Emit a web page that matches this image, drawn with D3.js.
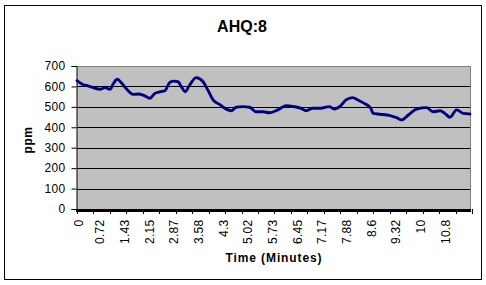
<!DOCTYPE html>
<html>
<head>
<meta charset="utf-8">
<script src="https://cdn.jsdelivr.net/npm/d3@7"></script>
<style>
  html, body { margin: 0; padding: 0; background: #fff; }
  svg { display: block; }
  text { font-family: Arial, "Liberation Sans", sans-serif; fill: #000; }
</style>
</head>
<body>
<svg id="chart" width="486" height="285"></svg>
<script>
// ---- data ----
const timeMinutes = [0, 0.14, 0.33, 0.52, 0.67, 0.81, 0.96, 1.05, 1.17, 1.30, 1.44, 1.63, 1.78, 1.92,
  2.12, 2.26, 2.41, 2.55, 2.70, 2.82, 2.93, 3.03, 3.14, 3.27, 3.46, 3.66, 3.80, 3.95, 4.14, 4.33,
  4.48, 4.62, 4.82, 5.01, 5.20, 5.40, 5.59, 5.83, 6.07, 6.31, 6.50, 6.65, 6.84, 7.08, 7.32, 7.47,
  7.66, 7.81, 8.00, 8.15, 8.34, 8.53, 8.60, 8.80, 9.09, 9.28, 9.43, 9.62, 9.86, 10.15, 10.34,
  10.54, 10.68, 10.83, 11.02, 11.21, 11.41];
const ppmValues = [628, 612, 602, 591, 586, 594, 586, 612, 635, 615, 587, 561, 563, 558,
  542, 566, 574, 579, 620, 626, 623, 599, 574, 607, 643, 623, 582, 534, 512, 489,
  481, 498, 501, 498, 476, 476, 471, 485, 506, 501, 493, 481, 493, 493, 501, 489,
  506, 534, 545, 534, 517, 493, 468, 464, 457, 447, 436, 460, 489, 496, 476,
  481, 468, 449, 485, 468, 465];
const xTickValues = [0, 0.7167, 1.4333, 2.15, 2.8667, 3.5833, 4.3, 5.0167, 5.7333, 6.45,
  7.1667, 7.8833, 8.6, 9.3167, 10.0333, 10.75];
const xTickLabels = ["0", "0.72", "1.43", "2.15", "2.87", "3.58", "4.3", "5.02", "5.73", "6.45",
  "7.17", "7.88", "8.6", "9.32", "10", "10.8"];
const yTickValues = [0, 100, 200, 300, 400, 500, 600, 700];
const chartTitle = "AHQ:8";
const xTitle = "Time (Minutes)";
const yTitle = "ppm";

// ---- layout ----
const svg = d3.select("#chart");
const plot = { left: 77, right: 471, top: 66, bottom: 209 };

const x = d3.scaleLinear().domain([0, 11.41]).range([plot.left, 470]);
const y = d3.scaleLinear().domain([0, 700]).range([plot.bottom, plot.top]);

// outer chart border
svg.append("rect")
  .attr("x", 4.5).attr("y", 5.5).attr("width", 477).attr("height", 274)
  .attr("fill", "#fff").attr("stroke", "#000").attr("stroke-width", 1);

// title
svg.append("text")
  .attr("x", 242).attr("y", 31.5)
  .attr("text-anchor", "middle")
  .attr("font-size", 16).attr("font-weight", "bold")
  .text(chartTitle);

// plot area
svg.append("rect")
  .attr("x", plot.left).attr("y", plot.top)
  .attr("width", plot.right - plot.left).attr("height", plot.bottom - plot.top)
  .attr("fill", "#c0c0c0");

// gridlines
svg.append("g").selectAll("line")
  .data(yTickValues.filter(v => v > 0 && v < 700))
  .join("line")
  .attr("x1", plot.left).attr("x2", plot.right)
  .attr("y1", d => Math.round(y(d)) + 0.5).attr("y2", d => Math.round(y(d)) + 0.5)
  .attr("stroke", "#000").attr("stroke-width", 1);

// plot border (top/right)
svg.append("path")
  .attr("d", `M${plot.left},${plot.top + 0.5}H${plot.right - 0.5}V${plot.bottom}`)
  .attr("fill", "none").attr("stroke", "#808080").attr("stroke-width", 1);

// y axis
const yAxis = d3.axisLeft(y).tickValues(yTickValues).tickSize(5).tickPadding(6)
  .tickFormat(d3.format("d"));
const gy = svg.append("g").attr("transform", `translate(${plot.left - 0.5},0)`).call(yAxis);
gy.select(".domain").attr("stroke", "#000");
gy.selectAll(".tick line").attr("stroke", "#000");
gy.selectAll(".tick text").attr("font-size", 12).attr("font-family", "Arial, 'Liberation Sans', sans-serif")
  .attr("fill", "#000").attr("letter-spacing", 0.3);

// x axis: thick base line + tick marks
svg.append("rect")
  .attr("x", plot.left - 1).attr("y", plot.bottom)
  .attr("width", plot.right - plot.left + 1).attr("height", 3)
  .attr("fill", "#000");
const minorTicks = d3.range(0, 11.5, 0.7167 * 2 / 3);
svg.append("g").selectAll("line")
  .data(minorTicks)
  .join("line")
  .attr("x1", d => Math.round(x(d)) + 0.5).attr("x2", d => Math.round(x(d)) + 0.5)
  .attr("y1", plot.bottom).attr("y2", plot.bottom + 5)
  .attr("stroke", "#000").attr("stroke-width", 1);

// x tick labels (rotated)
svg.append("g").selectAll("text")
  .data(xTickValues)
  .join("text")
  .attr("transform", (d, i) => `translate(${x(d) - (i === 0 ? -2 : 1.7)},219.5) rotate(-90)`)
  .attr("text-anchor", "end")
  .attr("dy", "0.35em")
  .attr("font-size", 12)
  .attr("letter-spacing", 0.3)
  .text((d, i) => xTickLabels[i]);

// axis titles
svg.append("text")
  .attr("x", 274).attr("y", 262)
  .attr("text-anchor", "middle")
  .attr("font-size", 12).attr("font-weight", "bold")
  .attr("letter-spacing", 0.9)
  .text(xTitle);

svg.append("text")
  .attr("transform", "translate(32,140) rotate(-90)")
  .attr("text-anchor", "middle")
  .attr("font-size", 12).attr("font-weight", "bold")
  .attr("letter-spacing", 0.5)
  .text(yTitle);

// data line
const data = timeMinutes.map((t, i) => ({ t, v: ppmValues[i] }));
svg.append("path")
  .datum(data)
  .attr("fill", "none")
  .attr("stroke", "#000080")
  .attr("stroke-width", 2.9)
  .attr("stroke-linejoin", "round")
  .attr("stroke-linecap", "round")
  .attr("d", d3.line().x(d => x(d.t)).y(d => y(d.v)).curve(d3.curveMonotoneX));
</script>
</body>
</html>
